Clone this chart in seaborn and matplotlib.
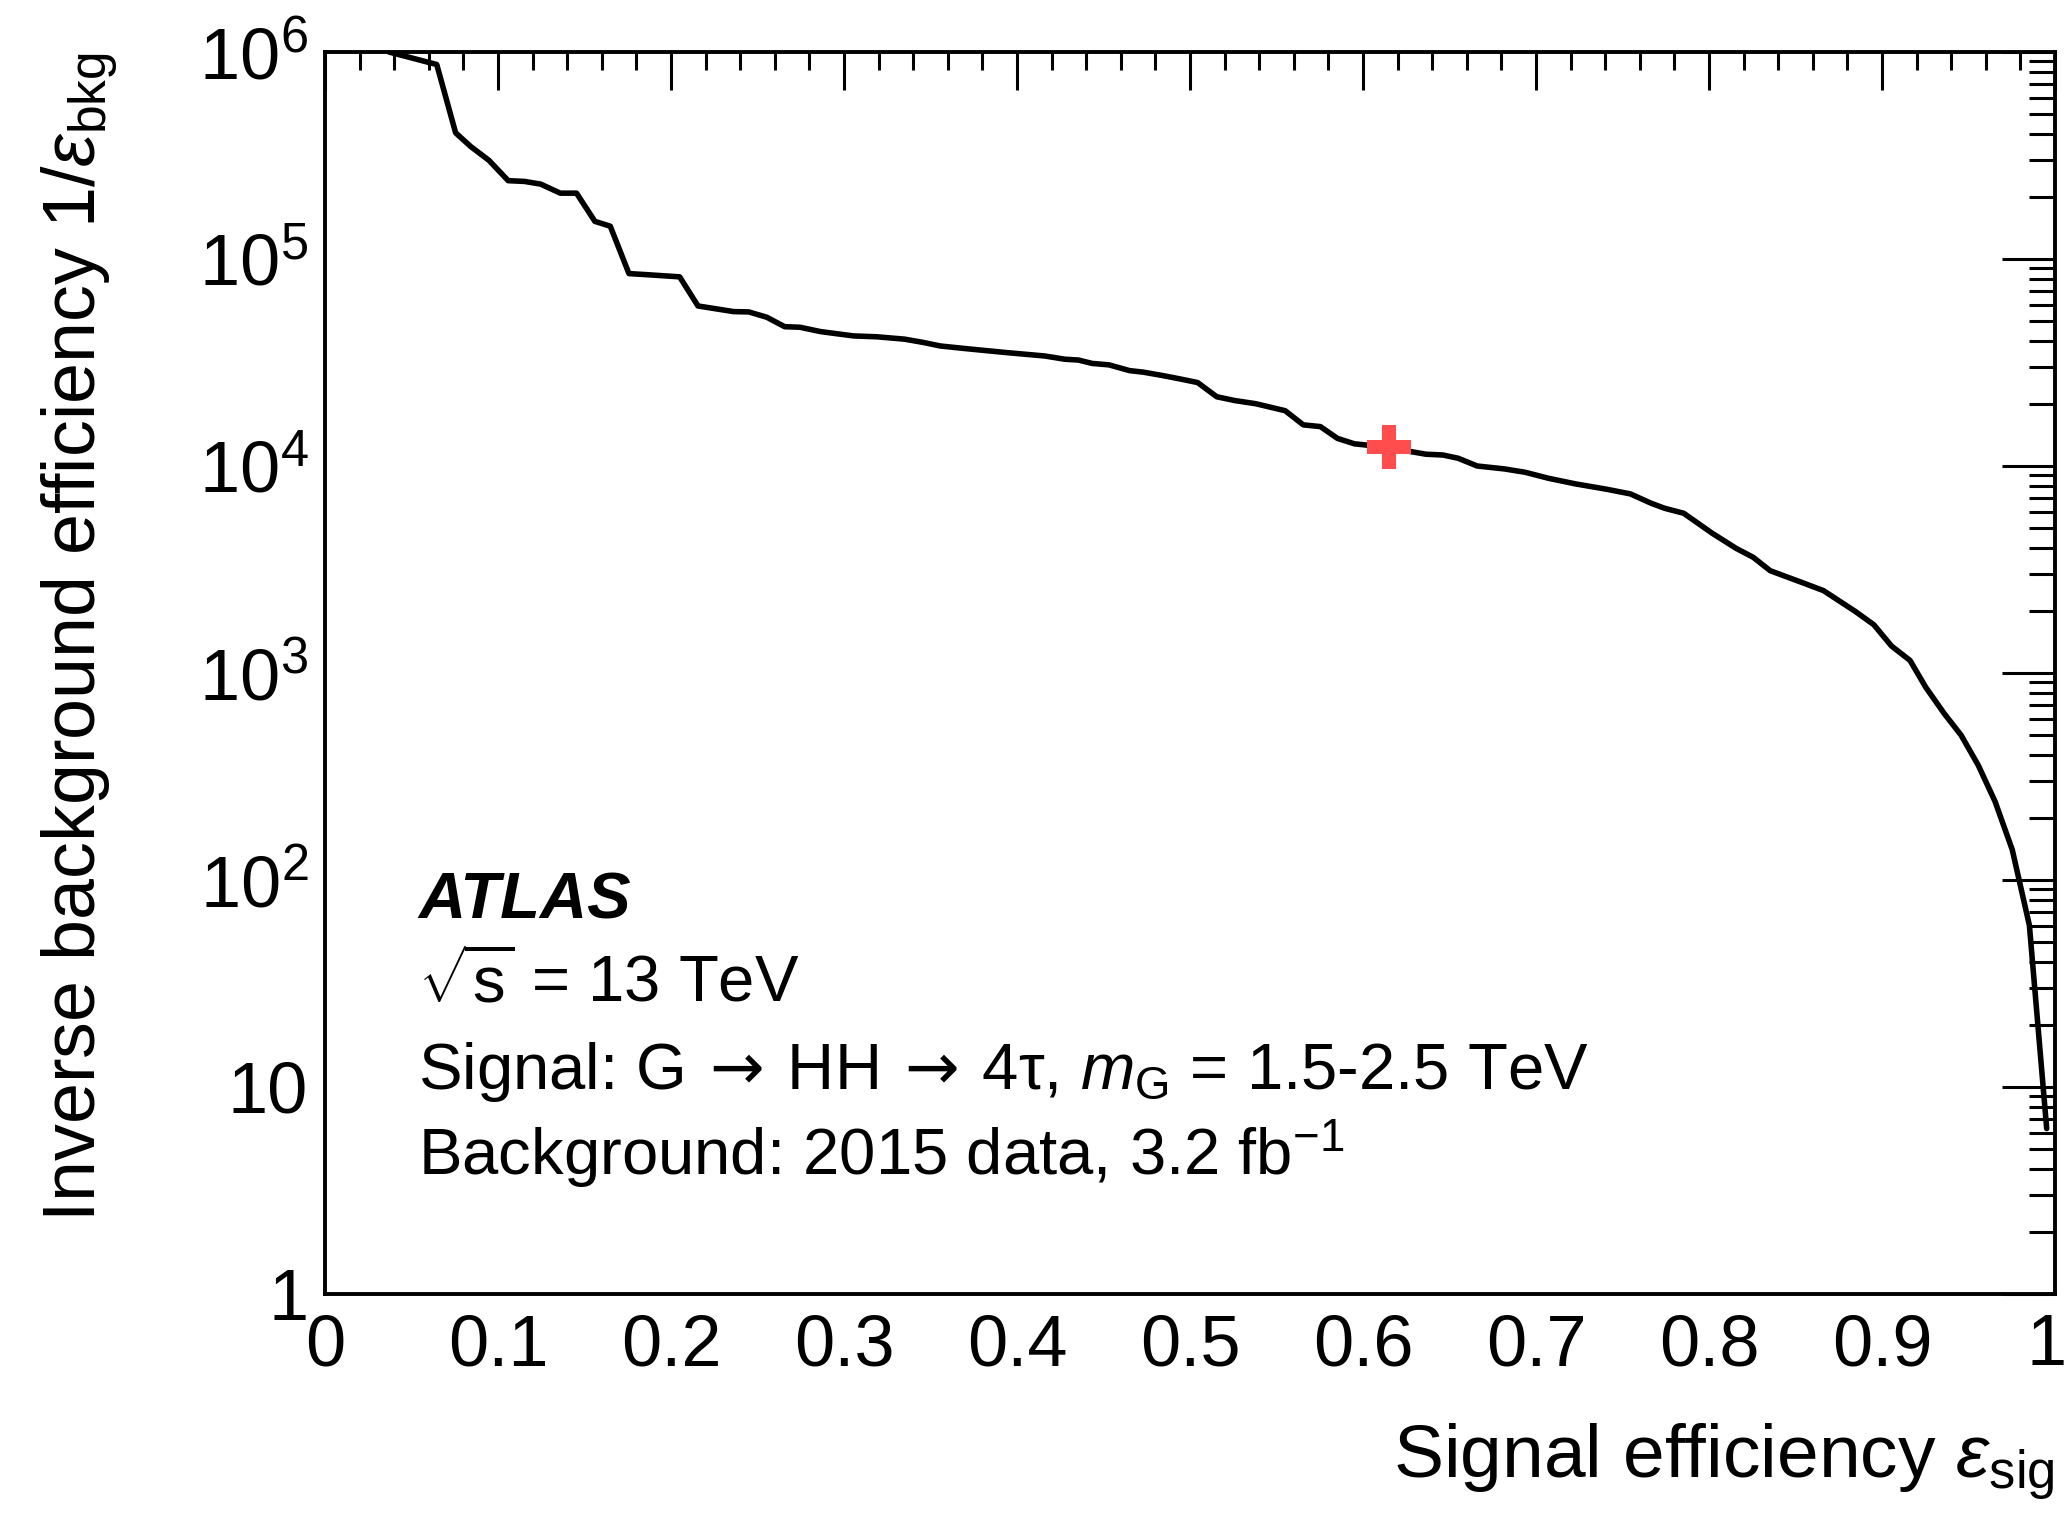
import matplotlib
matplotlib.use("Agg")
import matplotlib.pyplot as plt
import matplotlib.ticker as mticker
import matplotlib.transforms as mtransforms
import numpy as np
import pandas as pd
import seaborn as sns

# ---- data ----
sig_eff = [0.037, 0.0646, 0.0755, 0.0843, 0.0947, 0.1059, 0.1153, 0.1247, 0.136, 0.1454,
           0.156, 0.1649, 0.1757, 0.186, 0.205, 0.2156, 0.2362, 0.245, 0.2554, 0.2657,
           0.2746, 0.2864, 0.3055, 0.3188, 0.335, 0.3453, 0.3557, 0.369, 0.3925, 0.4058,
           0.416, 0.4276, 0.4355, 0.4434, 0.4532, 0.465, 0.473, 0.4847, 0.4946, 0.5044,
           0.5155, 0.526, 0.5379, 0.555, 0.5655, 0.5754, 0.5852, 0.595, 0.6148, 0.6286,
           0.6364, 0.6462, 0.655, 0.666, 0.6817, 0.6936, 0.7073, 0.723, 0.7409, 0.7546,
           0.7665, 0.7743, 0.7854, 0.8019, 0.8157, 0.8256, 0.8354, 0.8551, 0.8662, 0.8847,
           0.8953, 0.9055, 0.9162, 0.9253, 0.9359, 0.9457, 0.9556, 0.9654, 0.9753, 0.9852,
           0.9952]
inv_bkg_eff = [1.0e6, 8.7e5, 4.07e5, 3.49e5, 3.0e5, 2.39e5, 2.37e5, 2.30e5, 2.08e5, 2.08e5,
               1.52e5, 1.44e5, 8.5e4, 8.4e4, 8.2e4, 5.93e4, 5.57e4, 5.55e4, 5.23e4, 4.71e4,
               4.68e4, 4.46e4, 4.25e4, 4.21e4, 4.1e4, 3.96e4, 3.80e4, 3.70e4, 3.54e4, 3.46e4,
               3.40e4, 3.28e4, 3.25e4, 3.13e4, 3.08e4, 2.89e4, 2.84e4, 2.73e4, 2.63e4, 2.53e4,
               2.16e4, 2.07e4, 2.0e4, 1.85e4, 1.58e4, 1.55e4, 1.36e4, 1.28e4, 1.23e4, 1.17e4,
               1.14e4, 1.13e4, 1.09e4, 1.0e4, 9.68e3, 9.33e3, 8.72e3, 8.19e3, 7.72e3, 7.33e3,
               6.61e3, 6.25e3, 5.91e3, 4.73e3, 4.0e3, 3.62e3, 3.12e3, 2.71e3, 2.50e3, 1.98e3,
               1.71e3, 1.35e3, 1.15e3, 853, 638, 501, 359, 239, 140, 60.4,
               6.3]
wp_eff = [0.6148]
wp_inv_bkg = [1.23e4]

x_ticks = [0, 0.1, 0.2, 0.3, 0.4, 0.5, 0.6, 0.7, 0.8, 0.9, 1]
x_tick_labels = ["0", "0.1", "0.2", "0.3", "0.4", "0.5", "0.6", "0.7", "0.8", "0.9", "1"]
y_ticks = [1, 10, 1e2, 1e3, 1e4, 1e5, 1e6]
y_tick_labels = ["1", "10", r"$\mathregular{10^{2}}$", r"$\mathregular{10^{3}}$",
                 r"$\mathregular{10^{4}}$", r"$\mathregular{10^{5}}$", r"$\mathregular{10^{6}}$"]

# ---- style ----
sns.set_style("white")
plt.rcParams["font.family"] = ["Liberation Sans", "DejaVu Sans"]
plt.rcParams["mathtext.fontset"] = "custom"
plt.rcParams["mathtext.rm"] = "Liberation Sans"
plt.rcParams["mathtext.it"] = "Liberation Sans:italic"
plt.rcParams["mathtext.bf"] = "Liberation Sans:bold"
plt.rcParams["mathtext.sf"] = "DejaVu Sans"
for key in ["text.color", "axes.labelcolor", "xtick.color", "ytick.color", "axes.edgecolor"]:
    plt.rcParams[key] = "black"

fig = plt.figure(figsize=(20.69, 15.16), dpi=100)
ax = fig.add_axes([0.15708, 0.14644, 0.83615, 0.81926])

df = pd.DataFrame({"eff": sig_eff, "inv": inv_bkg_eff})
sns.lineplot(data=df, x="eff", y="inv", ax=ax, color="black", linewidth=4.0,
             sort=False, estimator=None)
wp = pd.DataFrame({"eff": wp_eff, "inv": wp_inv_bkg})
sns.scatterplot(data=wp, x="eff", y="inv", ax=ax, marker="P", s=1000,
                color="#ff4c4c", linewidth=0, zorder=5)

ax.set_yscale("log")
ax.set_xlim(0, 1)
ax.set_ylim(1, 1e6)

ax.set_xticks(x_ticks)
ax.set_xticklabels(x_tick_labels)
ax.xaxis.set_minor_locator(mticker.MultipleLocator(0.02))
ax.set_yticks(y_ticks)
ax.set_yticklabels(y_tick_labels)
ax.yaxis.set_minor_locator(mticker.LogLocator(base=10, subs=np.arange(2, 10), numticks=20))
ax.yaxis.set_minor_formatter(mticker.NullFormatter())

ax.tick_params(axis="both", which="both", direction="in", top=True, right=True,
               width=2.2, colors="black")
ax.tick_params(axis="x", which="major", length=27, labelsize=52, pad=14)
ax.tick_params(axis="x", which="minor", length=13)
ax.tick_params(axis="y", which="major", length=38, labelsize=52, pad=12)
ax.tick_params(axis="y", which="minor", length=19)

# keep the last x tick label ("1") inside the figure, as in the reference
last = ax.get_xticklabels()[-1]
last.set_transform(last.get_transform() +
                   mtransforms.ScaledTranslation(-8 / 100, 0, fig.dpi_scale_trans))

for sp in ax.spines.values():
    sp.set_linewidth(2.8)
    sp.set_color("black")

ax.set_xlabel(r"Signal efficiency $\varepsilon_{\mathrm{sig}}$", fontsize=54,
              loc="right")
ax.xaxis.set_label_coords(1.0, -0.103)
ax.set_ylabel(r"Inverse background efficiency 1/$\varepsilon_{\mathrm{bkg}}$",
              fontsize=53, loc="top")
ax.yaxis.set_label_coords(-0.118, 1.0)

tx = 0.054
fs = 47
ax.text(tx, 0.3027, "ATLAS", transform=ax.transAxes, fontsize=fs,
        fontweight="bold", fontstyle="italic", va="baseline", ha="left")
ax.text(tx, 0.2351, r"$\sqrt{\mathrm{s}}$ = 13 TeV", transform=ax.transAxes,
        fontsize=fs, va="baseline", ha="left")
ax.text(tx, 0.165,
        r"Signal: G$\:\mathsf{\rightarrow}\:$HH$\:\mathsf{\rightarrow}\:$4τ, $m_{\mathrm{G}}$ = 1.5-2.5 TeV",
        transform=ax.transAxes, fontsize=fs, va="baseline", ha="left")
ax.text(tx, 0.0958, r"Background: 2015 data, 3.2 fb$^{\mathrm{-1}}$",
        transform=ax.transAxes, fontsize=fs, va="baseline", ha="left")

fig.savefig("out.png", dpi=100, facecolor="white")
